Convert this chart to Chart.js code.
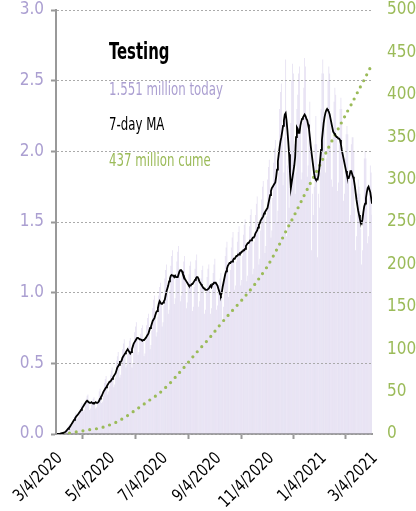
<!DOCTYPE html>
<html>
<head>
<meta charset="utf-8">
<script src="https://cdn.jsdelivr.net/npm/chart.js@4/dist/chart.umd.min.js"></script>
<style>
  html, body { margin: 0; padding: 0; background: #fff; }
</style>
</head>
<body>
<canvas id="testChart" width="416" height="511"></canvas>
<script>
// day 0 = 3/4/2020, values in millions of tests
const dailyTests = [
  0, 0, 0, 0, 0, 0, 0.01,
  0.01, 0.01, 0.01, 0.01, 0.01, 0.02, 0.03,
  0.05, 0.06, 0.07, 0.07, 0.06, 0.08, 0.10,
  0.12, 0.13, 0.15, 0.13, 0.11, 0.12, 0.15,
  0.18, 0.20, 0.22, 0.19, 0.16, 0.17, 0.21,
  0.25, 0.27, 0.28, 0.22, 0.17, 0.18, 0.22,
  0.23, 0.25, 0.26, 0.22, 0.18, 0.19, 0.22,
  0.25, 0.30, 0.32, 0.27, 0.22, 0.23, 0.27,
  0.36, 0.39, 0.41, 0.34, 0.28, 0.30, 0.34,
  0.42, 0.45, 0.47, 0.40, 0.33, 0.35, 0.40,
  0.52, 0.55, 0.58, 0.48, 0.40, 0.42, 0.49,
  0.60, 0.64, 0.67, 0.57, 0.47, 0.49, 0.56,
  0.62, 0.66, 0.68, 0.58, 0.47, 0.50, 0.58,
  0.72, 0.76, 0.79, 0.68, 0.56, 0.58, 0.67,
  0.71, 0.75, 0.77, 0.66, 0.55, 0.57, 0.66,
  0.77, 0.82, 0.85, 0.73, 0.60, 0.63, 0.73,
  0.89, 0.95, 0.98, 0.84, 0.69, 0.72, 0.83,
  0.98, 1.04, 1.07, 0.92, 0.76, 0.79, 0.91,
  1.10, 1.16, 1.20, 1.03, 0.85, 0.88, 1.02,
  1.19, 1.26, 1.30, 1.12, 0.92, 0.96, 1.10,
  1.22, 1.29, 1.33, 1.15, 0.94, 0.98, 1.13,
  1.16, 1.22, 1.26, 1.09, 0.89, 0.93, 1.07,
  1.13, 1.19, 1.22, 1.06, 0.87, 0.90, 1.04,
  1.17, 1.23, 1.27, 1.10, 0.90, 0.94, 1.08,
  1.10, 1.16, 1.19, 1.03, 0.85, 0.88, 1.01,
  1.11, 1.17, 1.20, 1.04, 0.85, 0.89, 1.02,
  1.14, 1.20, 1.24, 1.07, 0.88, 0.91, 1.05,
  1.05, 1.10, 1.14, 0.98, 0.80, 0.90, 1.08,
  1.26, 1.32, 1.36, 1.18, 0.97, 1.00, 1.16,
  1.32, 1.39, 1.43, 1.24, 1.02, 1.05, 1.22,
  1.36, 1.43, 1.47, 1.28, 1.05, 1.09, 1.26,
  1.41, 1.48, 1.52, 1.32, 1.08, 1.12, 1.30,
  1.47, 1.55, 1.59, 1.38, 1.13, 1.17, 1.36,
  1.55, 1.63, 1.68, 1.46, 1.20, 1.24, 1.44,
  1.66, 1.75, 1.79, 1.56, 1.28, 1.33, 1.54,
  1.80, 1.89, 1.94, 1.69, 1.39, 1.44, 1.67,
  1.92, 2.02, 2.08, 1.82, 1.50, 1.58, 1.85,
  2.30, 2.42, 2.48, 2.14, 1.76, 1.85, 2.10,
  2.65, 1.40, 1.90, 1.95, 1.60, 1.75, 2.20,
  2.50, 2.62, 2.55, 2.05, 1.70, 1.85, 2.30,
  2.40, 2.55, 2.60, 2.20, 1.80, 1.85, 2.20,
  2.45, 2.66, 2.60, 2.25, 1.82, 1.90, 2.20,
  2.35, 2.10, 1.30, 1.70, 1.55, 1.75, 2.05,
  2.25, 2.05, 1.25, 1.70, 1.60, 1.85, 2.30,
  2.55, 2.65, 2.55, 2.25, 1.85, 1.95, 2.30,
  2.50, 2.60, 2.55, 2.20, 1.80, 1.75, 2.10,
  2.35, 2.45, 2.40, 2.10, 1.72, 1.78, 2.05,
  2.30, 2.38, 2.30, 1.98, 1.65, 1.70, 1.95,
  2.12, 2.18, 2.12, 1.82, 1.50, 1.55, 2.05,
  2.10, 2.10, 2.00, 1.60, 1.30, 1.40, 1.70,
  1.80, 1.75, 1.70, 1.45, 1.20, 1.30, 1.60,
  1.95, 2.00, 1.95, 1.70, 1.35, 1.40, 1.70,
  1.90, 1.85, 1.551
];

const movingAvg = [
  0, 0, 0, 0, 0, 0.002, 0.004,
  0.006, 0.008, 0.01, 0.012, 0.016, 0.022, 0.03,
  0.037, 0.043, 0.05, 0.06, 0.07, 0.08, 0.09,
  0.10, 0.11, 0.12, 0.128, 0.135, 0.143, 0.152,
  0.16, 0.17, 0.18, 0.19, 0.20, 0.21, 0.22,
  0.23, 0.235, 0.23, 0.225, 0.22, 0.22, 0.225,
  0.22, 0.215, 0.22, 0.22, 0.225, 0.22, 0.22,
  0.225, 0.235, 0.25, 0.26, 0.27, 0.285, 0.30,
  0.31, 0.32, 0.33, 0.34, 0.35, 0.36, 0.37,
  0.37, 0.38, 0.39, 0.40, 0.41, 0.42, 0.43,
  0.45, 0.47, 0.48, 0.49, 0.51, 0.51, 0.52,
  0.54, 0.55, 0.56, 0.57, 0.58, 0.59, 0.60,
  0.59, 0.58, 0.57, 0.58, 0.60, 0.62, 0.64,
  0.65, 0.66, 0.67, 0.68, 0.68, 0.675, 0.67,
  0.67, 0.665, 0.66, 0.665, 0.665, 0.665, 0.68,
  0.69, 0.70, 0.71, 0.73, 0.75, 0.76, 0.78,
  0.80, 0.81, 0.82, 0.84, 0.86, 0.87, 0.89,
  0.92, 0.94, 0.93, 0.92, 0.92, 0.93, 0.94,
  0.95, 0.98, 1.01, 1.03, 1.05, 1.08, 1.10,
  1.12, 1.125, 1.12, 1.12, 1.11, 1.12, 1.11,
  1.11, 1.11, 1.13, 1.15, 1.16, 1.16, 1.15,
  1.13, 1.12, 1.10, 1.09, 1.08, 1.07, 1.06,
  1.05, 1.05, 1.05, 1.06, 1.06, 1.07, 1.08,
  1.09, 1.10, 1.11, 1.11, 1.10, 1.08, 1.07,
  1.06, 1.05, 1.04, 1.03, 1.03, 1.02, 1.02,
  1.02, 1.02, 1.03, 1.04, 1.05, 1.04, 1.06,
  1.06, 1.07, 1.07, 1.07, 1.06, 1.05, 1.03,
  1.01, 0.99, 0.98, 1.00, 1.04, 1.07, 1.10,
  1.13, 1.15, 1.17, 1.19, 1.20, 1.21, 1.21,
  1.22, 1.22, 1.23, 1.24, 1.24, 1.25, 1.26,
  1.26, 1.27, 1.27, 1.28, 1.28, 1.29, 1.29,
  1.30, 1.30, 1.31, 1.33, 1.34, 1.35, 1.35,
  1.36, 1.37, 1.37, 1.38, 1.39, 1.39, 1.40,
  1.42, 1.43, 1.44, 1.46, 1.48, 1.49, 1.51,
  1.52, 1.53, 1.54, 1.56, 1.57, 1.58, 1.59,
  1.60, 1.63, 1.66, 1.69, 1.72, 1.74, 1.75,
  1.76, 1.77, 1.78, 1.82, 1.87, 1.93, 1.98,
  2.03, 2.07, 2.10, 2.14, 2.18, 2.22, 2.26,
  2.27, 2.22, 2.15, 2.07, 1.98, 1.85, 1.74,
  1.78, 1.82, 1.86, 1.90, 1.96, 2.10, 2.17,
  2.16, 2.13, 2.13, 2.18, 2.21, 2.23, 2.24,
  2.25, 2.26, 2.25, 2.23, 2.22, 2.19, 2.16,
  2.10, 2.04, 1.99, 1.94, 1.89, 1.84, 1.81,
  1.80, 1.80, 1.80, 1.83, 1.88, 1.94, 2.01,
  2.08, 2.14, 2.20, 2.24, 2.27, 2.29, 2.30,
  2.29, 2.28, 2.26, 2.23, 2.20, 2.17, 2.14,
  2.13, 2.12, 2.11, 2.10, 2.10, 2.09, 2.09,
  2.08, 2.05, 2.01, 1.98, 1.95, 1.92, 1.89,
  1.86, 1.83, 1.81, 1.81, 1.83, 1.86, 1.86,
  1.84, 1.82, 1.80, 1.76, 1.71, 1.66, 1.62,
  1.58, 1.55, 1.52, 1.50, 1.49, 1.52, 1.57,
  1.61, 1.63, 1.67, 1.71, 1.74, 1.75, 1.73,
  1.71, 1.67, 1.63
];

// cumulative tests (millions), right axis
const cumeDays = [0, 7, 14, 21, 28, 35, 42, 49, 56, 63, 70, 77, 84, 91, 98, 105, 112, 119, 126, 133,
  140, 147, 154, 161, 168, 175, 182, 189, 196, 203, 210, 217, 224, 231, 238, 245, 252, 259, 266,
  273, 280, 287, 294, 301, 308, 315, 322, 329, 336, 343, 350, 357, 364, 366];
const cumeValues = [0, 0.1, 0.8, 2.0, 3.2, 4.4, 5.6, 6.5, 8.5, 11.0, 14.0, 18.0, 22.5, 27.5, 32.5, 37.5,
  42.5, 47.5, 54.0, 61.0, 69.0, 77.0, 85.5, 94.0, 102.0, 110.0, 118.5, 127.5, 136.0, 144.0, 152.0,
  160.0, 168.5, 177.5, 187.5, 198.0, 210.5, 224.0, 238.5, 252.0, 266.0, 280.5, 294.5, 308.0, 322.0,
  336.5, 350.5, 364.0, 377.5, 390.5, 404.5, 418.0, 432.0, 437.0];

const tickDays = [0, 61, 122, 184, 245, 306, 365];
const tickLabels = ["3/4/2020", "5/4/2020", "7/4/2020", "9/4/2020", "11/4/2020", "1/4/2021", "3/4/2021"];

const chartTitle = "Testing";
const fontFamily = "'DejaVu Sans Condensed', 'Liberation Sans Narrow', sans-serif";
const purple = "#ab9fd1";
const green = "#9bbb59";

Chart.defaults.font.family = fontFamily;
Chart.defaults.font.size = 17;

// draw text squeezed horizontally to mimic the narrow face of the original
function narrowText(ctx, text, x, y, squeeze, angle) {
  ctx.save();
  ctx.translate(x, y);
  if (angle) ctx.rotate(angle);
  ctx.scale(squeeze, 1);
  ctx.fillText(text, 0, 0);
  ctx.restore();
}

// title and key text drawn inside the plot
const notesPlugin = {
  id: "notes",
  afterDraw(chart) {
    const ctx = chart.ctx;
    const x = chart.chartArea.left + 53;
    const top = chart.chartArea.top;
    ctx.save();
    ctx.textAlign = "left";
    ctx.textBaseline = "alphabetic";
    ctx.font = "bold 23px " + fontFamily;
    ctx.fillStyle = "#000";
    narrowText(ctx, chartTitle, x, top + 49, 0.72);
    ctx.font = "17px " + fontFamily;
    ctx.fillStyle = purple;
    narrowText(ctx, dailyTests[dailyTests.length - 1].toFixed(3) + " million today", x, top + 85, 0.77);
    ctx.fillStyle = "#000";
    narrowText(ctx, "7-day MA", x, top + 120, 0.77);
    ctx.fillStyle = green;
    narrowText(ctx, Math.round(cumeValues[cumeValues.length - 1]) + " million cume", x, top + 155.5, 0.77);
    ctx.restore();
  }
};

// slanted date labels under the x axis, placed at the scale's tick pixels
const dateLabelPlugin = {
  id: "dateLabels",
  afterDraw(chart) {
    const ctx = chart.ctx;
    const sx = chart.scales.x;
    ctx.save();
    ctx.font = "17px " + fontFamily;
    ctx.fillStyle = "#000";
    ctx.textAlign = "right";
    ctx.textBaseline = "alphabetic";
    tickDays.forEach((d, i) => {
      const px = sx.getPixelForValue(d);
      narrowText(ctx, tickLabels[i], px + 7, sx.top + 25, 0.89, -Math.PI / 4);
    });
    ctx.restore();
  }
};

const ctx = document.getElementById("testChart").getContext("2d");
new Chart(ctx, {
  type: "bar",
  data: {
    datasets: [
      {
        type: "line",
        label: "7-day MA",
        data: movingAvg.map((v, i) => ({ x: i, y: v })),
        borderColor: "#000",
        borderWidth: 1.8,
        pointRadius: 0,
        tension: 0,
        yAxisID: "y",
        order: 1
      },
      {
        type: "line",
        label: "Cume",
        data: cumeValues.map((v, i) => ({ x: cumeDays[i], y: v })),
        borderColor: green,
        borderWidth: 3.2,
        borderDash: [0, 6.8],
        borderCapStyle: "round",
        pointRadius: 0,
        tension: 0.3,
        yAxisID: "y2",
        order: 2
      },
      {
        type: "bar",
        label: "Daily",
        data: dailyTests.map((v, i) => ({ x: i, y: v })),
        backgroundColor: "rgba(200, 190, 228, 0.55)",
        barPercentage: 0.8,
        categoryPercentage: 1,
        yAxisID: "y",
        order: 3
      }
    ]
  },
  options: {
    responsive: false,
    animation: false,
    devicePixelRatio: 1,
    layout: { padding: { top: 10, left: 0, right: 0, bottom: 0 } },
    plugins: { legend: { display: false }, tooltip: { enabled: false } },
    scales: {
      x: {
        type: "linear",
        min: 0,
        max: 366,
        offset: false,
        afterBuildTicks: (scale) => { scale.ticks = tickDays.map(v => ({ value: v })); },
        afterFit: (scale) => { scale.height = 77; scale.paddingLeft = 0; scale.paddingRight = 0; },
        grid: { drawOnChartArea: false, drawTicks: true, tickLength: 5, tickColor: "#999", tickWidth: 2 },
        border: { display: true, color: "#999", width: 2 },
        ticks: { display: false, autoSkip: false }
      },
      y: {
        position: "left",
        min: 0,
        max: 3,
        afterFit: (scale) => { scale.width = 56; scale.paddingTop = 0; scale.paddingBottom = 0; },
        grid: { color: "#aaa", lineWidth: 1, z: 1, drawTicks: true, tickLength: 5, tickColor: "#999", tickWidth: 2 },
        border: { display: true, color: "#999", width: 2, dash: [2, 2], z: 1 },
        ticks: { stepSize: 0.5, color: purple, padding: 7, callback: (v) => v.toFixed(1) }
      },
      y2: {
        position: "right",
        min: 0,
        max: 500,
        afterFit: (scale) => { scale.width = 44; scale.paddingTop = 0; scale.paddingBottom = 0; },
        grid: { display: false, drawTicks: false },
        border: { display: false },
        ticks: { stepSize: 50, color: green, padding: 15 }
      }
    }
  },
  plugins: [notesPlugin, dateLabelPlugin]
});
</script>
</body>
</html>
